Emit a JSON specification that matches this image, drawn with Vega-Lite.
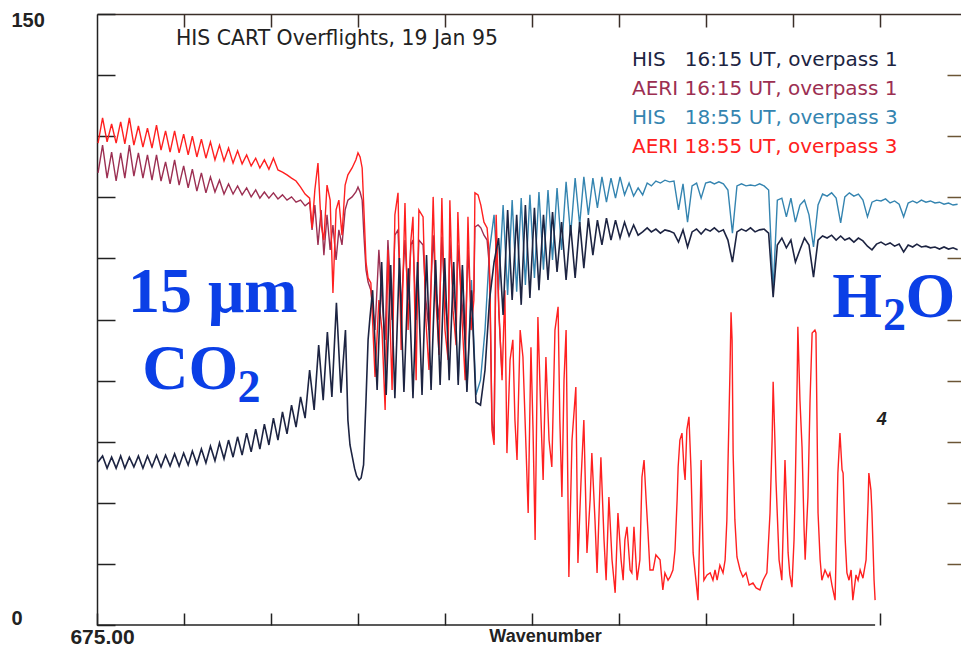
{
"$schema": "https://vega.github.io/schema/vega-lite/v6.json",
"width": 864, "height": 611,
"autosize": {"type": "none"},
"padding": {"left": 97, "top": 14, "right": 0, "bottom": 21},
"background": "white",
"config": {"view": {"stroke": null}, "axis": {"grid": false}},
"title": {"text": "HIS CART Overflights, 19 Jan 95", "anchor": "start", "frame": "group", "orient": "top", "offset": -55, "dx": 79, "baseline": "alphabetic", "font": "DejaVu Sans", "fontSize": 20.4, "fontWeight": "normal", "color": "#222222"},
"datasets": {
"his1": [
{"wn":675.3,"rad":40.0},{"wn":676.6,"rad":41.5},{"wn":677.9,"rad":38.5},{"wn":679.2,"rad":41.2},{"wn":680.5,"rad":38.5},{"wn":681.8,"rad":41.5},{"wn":683.0,"rad":38.5},{"wn":684.3,"rad":41.2},{"wn":685.6,"rad":38.8},{"wn":686.9,"rad":41.5},{"wn":688.2,"rad":38.5},{"wn":689.5,"rad":41.5},{"wn":690.8,"rad":38.8},{"wn":692.1,"rad":41.7},{"wn":693.4,"rad":38.8},{"wn":694.7,"rad":41.7},{"wn":696.0,"rad":39.0},{"wn":697.3,"rad":42.0},{"wn":698.6,"rad":39.0},{"wn":699.9,"rad":42.2},{"wn":701.2,"rad":39.3},{"wn":702.4,"rad":42.7},{"wn":703.7,"rad":39.5},{"wn":705.0,"rad":43.2},{"wn":706.3,"rad":39.8},{"wn":707.6,"rad":43.9},{"wn":708.9,"rad":40.3},{"wn":710.2,"rad":44.7},{"wn":711.5,"rad":40.8},{"wn":712.8,"rad":45.4},{"wn":714.1,"rad":41.2},{"wn":715.4,"rad":46.2},{"wn":716.7,"rad":41.7},{"wn":718.0,"rad":47.1},{"wn":719.3,"rad":42.5},{"wn":720.6,"rad":48.1},{"wn":721.8,"rad":43.2},{"wn":723.1,"rad":49.3},{"wn":724.4,"rad":44.2},{"wn":725.7,"rad":50.8},{"wn":727.0,"rad":45.4},{"wn":728.3,"rad":52.3},{"wn":729.6,"rad":46.9},{"wn":730.9,"rad":54.0},{"wn":732.2,"rad":48.6},{"wn":733.5,"rad":56.0},{"wn":734.8,"rad":50.8},{"wn":736.1,"rad":62.6},{"wn":737.4,"rad":52.8},{"wn":738.7,"rad":68.7},{"wn":740.0,"rad":55.2},{"wn":741.2,"rad":71.9},{"wn":742.5,"rad":56.0},{"wn":743.8,"rad":79.1},{"wn":745.1,"rad":57.0},{"wn":746.4,"rad":72.4},{"wn":747.1,"rad":50.3},{"wn":747.7,"rad":44.2},{"wn":749.0,"rad":38.5},{"wn":749.6,"rad":36.6},{"wn":750.3,"rad":35.6},{"wn":750.9,"rad":36.1},{"wn":751.6,"rad":39.3},{"wn":752.3,"rad":55.2},{"wn":752.9,"rad":70.0},{"wn":753.4,"rad":75.1},{"wn":754.2,"rad":82.2},{"wn":755.5,"rad":57.7},{"wn":756.8,"rad":89.1},{"wn":758.1,"rad":56.5},{"wn":759.4,"rad":88.4},{"wn":760.6,"rad":55.7},{"wn":761.9,"rad":90.1},{"wn":763.2,"rad":57.2},{"wn":764.5,"rad":87.6},{"wn":765.8,"rad":55.7},{"wn":767.1,"rad":89.1},{"wn":768.4,"rad":56.5},{"wn":769.7,"rad":90.8},{"wn":771.0,"rad":57.7},{"wn":772.3,"rad":89.6},{"wn":773.6,"rad":58.9},{"wn":774.9,"rad":90.1},{"wn":776.2,"rad":60.1},{"wn":777.5,"rad":89.1},{"wn":778.8,"rad":58.9},{"wn":780.0,"rad":88.4},{"wn":781.3,"rad":57.2},{"wn":782.6,"rad":82.2},{"wn":783.9,"rad":54.7},{"wn":785.2,"rad":54.0},{"wn":786.5,"rad":62.6},{"wn":787.8,"rad":79.8},{"wn":789.1,"rad":89.1},{"wn":790.4,"rad":95.0},{"wn":791.7,"rad":76.1},{"wn":793.0,"rad":101.9},{"wn":794.3,"rad":79.8},{"wn":795.6,"rad":100.7},{"wn":796.9,"rad":78.6},{"wn":798.1,"rad":103.1},{"wn":799.4,"rad":80.3},{"wn":800.7,"rad":102.4},{"wn":802.0,"rad":82.2},{"wn":803.3,"rad":100.7},{"wn":804.6,"rad":84.7},{"wn":805.9,"rad":101.4},{"wn":807.2,"rad":86.7},{"wn":808.5,"rad":98.9},{"wn":809.8,"rad":84.7},{"wn":811.1,"rad":98.2},{"wn":812.4,"rad":85.2},{"wn":813.7,"rad":98.9},{"wn":814.9,"rad":87.6},{"wn":816.2,"rad":99.9},{"wn":817.5,"rad":90.8},{"wn":818.8,"rad":99.4},{"wn":820.1,"rad":93.3},{"wn":821.4,"rad":99.9},{"wn":822.7,"rad":94.5},{"wn":824.0,"rad":99.4},{"wn":825.3,"rad":95.0},{"wn":826.6,"rad":98.9},{"wn":827.9,"rad":95.5},{"wn":829.2,"rad":98.2},{"wn":830.5,"rad":95.7},{"wn":831.8,"rad":96.5},{"wn":833.1,"rad":97.5},{"wn":834.3,"rad":96.5},{"wn":835.6,"rad":97.2},{"wn":836.9,"rad":96.2},{"wn":838.2,"rad":97.0},{"wn":839.5,"rad":96.7},{"wn":840.8,"rad":96.2},{"wn":842.1,"rad":94.0},{"wn":843.4,"rad":97.0},{"wn":844.7,"rad":92.8},{"wn":846.0,"rad":96.5},{"wn":847.3,"rad":97.2},{"wn":848.6,"rad":96.0},{"wn":849.9,"rad":97.2},{"wn":851.2,"rad":96.7},{"wn":852.4,"rad":97.5},{"wn":853.7,"rad":96.5},{"wn":855.0,"rad":97.0},{"wn":856.3,"rad":94.5},{"wn":857.6,"rad":89.1},{"wn":858.9,"rad":96.5},{"wn":860.2,"rad":97.2},{"wn":861.5,"rad":96.7},{"wn":862.8,"rad":97.5},{"wn":864.1,"rad":96.5},{"wn":865.4,"rad":97.0},{"wn":866.7,"rad":97.2},{"wn":868.0,"rad":96.2},{"wn":869.3,"rad":80.5},{"wn":870.5,"rad":93.3},{"wn":871.8,"rad":95.0},{"wn":873.1,"rad":92.6},{"wn":874.4,"rad":94.5},{"wn":875.7,"rad":89.1},{"wn":877.0,"rad":92.1},{"wn":878.3,"rad":95.0},{"wn":879.6,"rad":93.3},{"wn":880.9,"rad":85.4},{"wn":882.2,"rad":94.5},{"wn":883.5,"rad":95.5},{"wn":884.8,"rad":95.0},{"wn":886.1,"rad":95.7},{"wn":887.4,"rad":94.5},{"wn":888.7,"rad":95.5},{"wn":889.9,"rad":94.5},{"wn":891.2,"rad":95.0},{"wn":892.5,"rad":94.0},{"wn":893.8,"rad":95.0},{"wn":895.1,"rad":94.3},{"wn":896.4,"rad":93.0},{"wn":897.7,"rad":92.1},{"wn":899.0,"rad":93.5},{"wn":900.3,"rad":94.0},{"wn":901.6,"rad":93.3},{"wn":902.9,"rad":93.8},{"wn":904.2,"rad":93.0},{"wn":905.5,"rad":93.5},{"wn":906.8,"rad":91.6},{"wn":908.1,"rad":93.3},{"wn":909.4,"rad":92.8},{"wn":910.6,"rad":93.5},{"wn":911.9,"rad":92.8},{"wn":913.2,"rad":93.0},{"wn":914.5,"rad":92.6},{"wn":915.8,"rad":92.8},{"wn":917.1,"rad":92.3},{"wn":918.4,"rad":92.8},{"wn":919.7,"rad":92.3},{"wn":921.0,"rad":92.6},{"wn":922.3,"rad":92.1}
],
"his3": [
{"wn":778.8,"rad":60.1},{"wn":780.0,"rad":87.2},{"wn":781.3,"rad":57.7},{"wn":782.6,"rad":84.7},{"wn":783.9,"rad":56.5},{"wn":785.2,"rad":60.1},{"wn":786.5,"rad":72.4},{"wn":787.8,"rad":92.1},{"wn":789.1,"rad":100.7},{"wn":790.4,"rad":82.2},{"wn":791.7,"rad":103.1},{"wn":793.0,"rad":81.0},{"wn":794.3,"rad":104.3},{"wn":795.6,"rad":81.8},{"wn":796.9,"rad":104.8},{"wn":798.1,"rad":83.5},{"wn":799.4,"rad":105.6},{"wn":800.7,"rad":85.2},{"wn":802.0,"rad":106.3},{"wn":803.3,"rad":87.2},{"wn":804.6,"rad":106.8},{"wn":805.9,"rad":89.6},{"wn":807.2,"rad":107.3},{"wn":808.5,"rad":92.1},{"wn":809.8,"rad":108.8},{"wn":811.1,"rad":95.7},{"wn":812.4,"rad":109.7},{"wn":813.7,"rad":98.2},{"wn":814.9,"rad":110.0},{"wn":816.2,"rad":100.7},{"wn":817.5,"rad":109.7},{"wn":818.8,"rad":102.4},{"wn":820.1,"rad":110.0},{"wn":821.4,"rad":103.8},{"wn":822.7,"rad":109.7},{"wn":824.0,"rad":104.8},{"wn":825.3,"rad":110.0},{"wn":826.6,"rad":105.6},{"wn":827.9,"rad":108.5},{"wn":829.2,"rad":105.3},{"wn":830.5,"rad":107.3},{"wn":831.8,"rad":105.6},{"wn":833.1,"rad":108.5},{"wn":834.3,"rad":107.8},{"wn":835.6,"rad":109.0},{"wn":836.9,"rad":108.5},{"wn":838.2,"rad":109.2},{"wn":839.5,"rad":108.8},{"wn":840.8,"rad":109.0},{"wn":842.1,"rad":101.9},{"wn":843.4,"rad":108.3},{"wn":844.7,"rad":98.9},{"wn":846.0,"rad":107.8},{"wn":847.3,"rad":108.5},{"wn":848.6,"rad":104.8},{"wn":849.9,"rad":108.5},{"wn":851.2,"rad":108.8},{"wn":852.4,"rad":108.3},{"wn":853.7,"rad":108.8},{"wn":855.0,"rad":108.3},{"wn":856.3,"rad":106.8},{"wn":857.6,"rad":96.2},{"wn":858.9,"rad":107.8},{"wn":860.2,"rad":108.3},{"wn":861.5,"rad":107.8},{"wn":862.8,"rad":108.0},{"wn":864.1,"rad":107.8},{"wn":865.4,"rad":108.3},{"wn":866.7,"rad":107.8},{"wn":868.0,"rad":106.8},{"wn":869.3,"rad":82.2},{"wn":870.5,"rad":104.3},{"wn":871.8,"rad":104.8},{"wn":873.1,"rad":100.2},{"wn":874.4,"rad":104.8},{"wn":875.7,"rad":98.9},{"wn":877.0,"rad":103.1},{"wn":878.3,"rad":104.3},{"wn":879.6,"rad":100.7},{"wn":880.9,"rad":92.8},{"wn":882.2,"rad":103.1},{"wn":883.5,"rad":105.8},{"wn":884.8,"rad":105.3},{"wn":886.1,"rad":106.1},{"wn":887.4,"rad":104.8},{"wn":888.7,"rad":98.7},{"wn":889.9,"rad":105.1},{"wn":891.2,"rad":106.1},{"wn":892.5,"rad":105.3},{"wn":893.8,"rad":105.8},{"wn":895.1,"rad":104.3},{"wn":896.4,"rad":100.2},{"wn":897.7,"rad":103.8},{"wn":899.0,"rad":104.3},{"wn":900.3,"rad":104.1},{"wn":901.6,"rad":104.6},{"wn":902.9,"rad":103.6},{"wn":904.2,"rad":104.1},{"wn":905.5,"rad":103.3},{"wn":906.8,"rad":100.2},{"wn":908.1,"rad":103.6},{"wn":909.4,"rad":104.1},{"wn":910.6,"rad":103.6},{"wn":911.9,"rad":104.3},{"wn":913.2,"rad":103.8},{"wn":914.5,"rad":104.1},{"wn":915.8,"rad":103.6},{"wn":917.1,"rad":103.8},{"wn":918.4,"rad":103.3},{"wn":919.7,"rad":103.6},{"wn":921.0,"rad":103.1},{"wn":922.3,"rad":103.3}
],
"aeri1": [
{"wn":675.3,"rad":111.0},{"wn":676.6,"rad":117.8},{"wn":677.9,"rad":109.7},{"wn":679.2,"rad":116.1},{"wn":680.5,"rad":109.0},{"wn":681.8,"rad":115.9},{"wn":683.0,"rad":109.7},{"wn":684.3,"rad":117.8},{"wn":685.6,"rad":110.2},{"wn":686.9,"rad":115.9},{"wn":688.2,"rad":109.7},{"wn":689.5,"rad":115.4},{"wn":690.8,"rad":109.2},{"wn":692.1,"rad":115.4},{"wn":693.4,"rad":109.0},{"wn":694.7,"rad":113.7},{"wn":696.0,"rad":108.3},{"wn":697.3,"rad":114.2},{"wn":698.6,"rad":108.0},{"wn":699.9,"rad":112.7},{"wn":701.2,"rad":107.3},{"wn":702.4,"rad":111.9},{"wn":703.7,"rad":106.5},{"wn":705.0,"rad":111.0},{"wn":706.3,"rad":106.1},{"wn":707.6,"rad":110.0},{"wn":708.9,"rad":106.3},{"wn":710.2,"rad":109.2},{"wn":711.5,"rad":105.8},{"wn":712.8,"rad":108.3},{"wn":714.1,"rad":105.8},{"wn":715.4,"rad":107.8},{"wn":716.7,"rad":105.6},{"wn":718.0,"rad":107.3},{"wn":719.3,"rad":105.1},{"wn":720.6,"rad":106.8},{"wn":721.8,"rad":104.8},{"wn":723.1,"rad":106.3},{"wn":724.4,"rad":104.8},{"wn":725.7,"rad":106.1},{"wn":727.0,"rad":104.6},{"wn":728.3,"rad":105.6},{"wn":729.6,"rad":104.3},{"wn":730.9,"rad":105.1},{"wn":732.2,"rad":103.8},{"wn":733.5,"rad":104.3},{"wn":734.8,"rad":102.9},{"wn":736.1,"rad":103.8},
{"wn":736.8,"rad":97.0},{"wn":737.6,"rad":103.1},{"wn":738.5,"rad":93.3},{"wn":739.4,"rad":101.9},{"wn":740.2,"rad":90.8},{"wn":741.1,"rad":100.7},{"wn":742.0,"rad":92.1},{"wn":742.8,"rad":98.2},{"wn":743.7,"rad":89.6},{"wn":744.5,"rad":97.0},{"wn":745.4,"rad":93.3},{"wn":746.3,"rad":101.9},{"wn":747.1,"rad":104.3},{"wn":748.3,"rad":105.1},{"wn":749.4,"rad":106.3},{"wn":750.0,"rad":107.5},{"wn":750.6,"rad":106.3},{"wn":751.2,"rad":104.3},{"wn":751.7,"rad":95.7},{"wn":752.3,"rad":87.2},{"wn":752.9,"rad":84.2},
{"wn":753.7,"rad":82.2},{"wn":754.9,"rad":72.4},{"wn":756.0,"rad":92.1},{"wn":756.9,"rad":79.8},{"wn":757.8,"rad":70.0},{"wn":758.6,"rad":94.5},{"wn":759.8,"rad":74.9},{"wn":760.6,"rad":95.7},{"wn":761.5,"rad":97.0},{"wn":762.4,"rad":77.3},{"wn":763.5,"rad":94.5},{"wn":764.4,"rad":79.8},{"wn":765.2,"rad":93.3},{"wn":765.8,"rad":94.5},{"wn":766.7,"rad":74.9},{"wn":767.5,"rad":94.5},{"wn":768.7,"rad":93.3},{"wn":769.5,"rad":79.8},{"wn":770.4,"rad":72.4},{"wn":771.6,"rad":95.7},{"wn":772.4,"rad":82.2},{"wn":773.3,"rad":74.9},{"wn":774.1,"rad":95.3},{"wn":775.0,"rad":79.8},{"wn":775.9,"rad":72.4},{"wn":776.4,"rad":94.5},{"wn":777.3,"rad":82.2},{"wn":778.2,"rad":74.9},{"wn":778.7,"rad":93.3},{"wn":779.6,"rad":82.2},{"wn":780.8,"rad":70.0},{"wn":781.6,"rad":92.1},{"wn":782.5,"rad":77.3},{"wn":783.3,"rad":82.2},{"wn":783.6,"rad":97.7},{"wn":784.5,"rad":98.2},{"wn":785.3,"rad":97.5},{"wn":786.2,"rad":95.7},{"wn":787.1,"rad":94.5},{"wn":787.6,"rad":89.6},{"wn":787.9,"rad":82.2},{"wn":788.5,"rad":50.3},{"wn":789.1,"rad":45.4},{"wn":789.7,"rad":97.0},{"wn":790.5,"rad":76.1},{"wn":791.4,"rad":61.4}
],
"aeri3": [
{"wn":675.3,"rad":118.3},{"wn":676.6,"rad":124.5},{"wn":677.9,"rad":118.6},{"wn":679.2,"rad":123.0},{"wn":680.5,"rad":118.3},{"wn":681.8,"rad":123.5},{"wn":683.0,"rad":118.1},{"wn":684.3,"rad":124.5},{"wn":685.6,"rad":117.8},{"wn":686.9,"rad":122.5},{"wn":688.2,"rad":117.3},{"wn":689.5,"rad":122.0},{"wn":690.8,"rad":117.1},{"wn":692.1,"rad":122.7},{"wn":693.4,"rad":116.6},{"wn":694.7,"rad":121.3},{"wn":696.0,"rad":116.1},{"wn":697.3,"rad":121.3},{"wn":698.6,"rad":115.9},{"wn":699.9,"rad":120.5},{"wn":701.2,"rad":115.4},{"wn":702.4,"rad":120.0},{"wn":703.7,"rad":114.9},{"wn":705.0,"rad":119.3},{"wn":706.3,"rad":114.6},{"wn":707.6,"rad":118.6},{"wn":708.9,"rad":114.2},{"wn":710.2,"rad":117.8},{"wn":711.5,"rad":113.9},{"wn":712.8,"rad":117.1},{"wn":714.1,"rad":113.4},{"wn":715.4,"rad":116.4},{"wn":716.7,"rad":113.2},{"wn":718.0,"rad":115.4},{"wn":719.3,"rad":112.7},{"wn":720.6,"rad":114.6},{"wn":721.8,"rad":112.2},{"wn":723.1,"rad":114.2},{"wn":724.4,"rad":111.9},{"wn":725.7,"rad":114.6},{"wn":727.0,"rad":111.7},{"wn":728.3,"rad":111.2},{"wn":729.6,"rad":110.5},{"wn":730.9,"rad":109.7},{"wn":732.2,"rad":109.0},{"wn":733.5,"rad":107.5},{"wn":734.8,"rad":105.8},{"wn":736.1,"rad":104.8},
{"wn":736.8,"rad":97.5},{"wn":737.6,"rad":106.8},{"wn":738.5,"rad":113.4},{"wn":739.4,"rad":98.2},{"wn":740.2,"rad":94.5},{"wn":741.1,"rad":108.0},{"wn":742.0,"rad":104.3},{"wn":742.8,"rad":81.5},{"wn":743.7,"rad":101.9},{"wn":744.5,"rad":104.3},{"wn":745.4,"rad":95.7},{"wn":746.3,"rad":108.0},{"wn":747.1,"rad":110.5},{"wn":748.3,"rad":112.2},{"wn":749.4,"rad":114.2},{"wn":750.0,"rad":115.9},{"wn":750.6,"rad":114.9},{"wn":751.2,"rad":112.2},{"wn":751.7,"rad":101.9},{"wn":752.3,"rad":89.1},{"wn":752.9,"rad":85.2},{"wn":753.7,"rad":84.0},
{"wn":754.9,"rad":60.9},{"wn":756.0,"rad":79.8},{"wn":756.9,"rad":72.4},{"wn":757.8,"rad":52.8},{"wn":758.6,"rad":92.1},{"wn":759.8,"rad":57.7},{"wn":760.6,"rad":100.7},{"wn":761.5,"rad":106.1},{"wn":762.4,"rad":67.5},{"wn":763.5,"rad":103.6},{"wn":764.4,"rad":72.4},{"wn":765.2,"rad":94.5},{"wn":765.8,"rad":100.2},{"wn":766.7,"rad":60.1},{"wn":767.5,"rad":101.9},{"wn":768.7,"rad":100.2},{"wn":769.5,"rad":74.9},{"wn":770.4,"rad":62.6},{"wn":771.6,"rad":105.1},{"wn":772.4,"rad":79.8},{"wn":773.3,"rad":66.3},{"wn":774.1,"rad":104.8},{"wn":775.0,"rad":72.4},{"wn":775.9,"rad":65.1},{"wn":776.4,"rad":104.3},{"wn":777.3,"rad":77.3},{"wn":778.2,"rad":68.7},{"wn":778.7,"rad":101.4},{"wn":779.6,"rad":79.8},{"wn":780.8,"rad":60.1},{"wn":781.6,"rad":100.2},{"wn":782.5,"rad":72.4},{"wn":783.3,"rad":79.8},{"wn":783.6,"rad":106.1},{"wn":784.5,"rad":105.6},{"wn":785.3,"rad":103.1},{"wn":786.2,"rad":98.9},{"wn":787.1,"rad":97.5},
{"wn":787.6,"rad":92.1},{"wn":787.9,"rad":84.7},{"wn":788.5,"rad":47.9},{"wn":789.1,"rad":44.2},{"wn":789.7,"rad":100.7},{"wn":790.5,"rad":77.3},{"wn":791.4,"rad":60.1},{"wn":792.2,"rad":82.2},{"wn":792.8,"rad":42.2},{"wn":793.7,"rad":65.1},{"wn":794.5,"rad":70.0},{"wn":795.1,"rad":50.3},{"wn":795.7,"rad":40.5},{"wn":796.6,"rad":72.4},{"wn":797.4,"rad":65.8},{"wn":798.3,"rad":43.0},{"wn":798.9,"rad":27.5},{"wn":799.7,"rad":68.2},{"wn":800.3,"rad":47.9},{"wn":800.9,"rad":20.9},{"wn":801.7,"rad":75.6},{"wn":802.6,"rad":50.3},{"wn":803.2,"rad":35.6},{"wn":804.0,"rad":65.8},{"wn":804.9,"rad":45.4},{"wn":805.7,"rad":38.8},{"wn":806.6,"rad":72.4},{"wn":807.5,"rad":78.1},{"wn":808.0,"rad":50.3},{"wn":808.6,"rad":31.4},{"wn":809.2,"rad":60.1},{"wn":809.8,"rad":72.4},{"wn":810.6,"rad":11.8},{"wn":811.5,"rad":45.4},{"wn":812.6,"rad":58.4},{"wn":813.2,"rad":15.2},{"wn":814.1,"rad":35.6},{"wn":814.9,"rad":50.3},{"wn":815.8,"rad":17.7},{"wn":816.7,"rad":30.7},{"wn":817.2,"rad":42.2},{"wn":818.1,"rad":25.8},{"wn":818.7,"rad":12.8},{"wn":819.3,"rad":28.2},{"wn":819.8,"rad":41.2},{"wn":820.7,"rad":20.9},{"wn":821.3,"rad":11.0},{"wn":822.1,"rad":31.4},{"wn":823.0,"rad":16.0},{"wn":823.9,"rad":7.9},{"wn":824.7,"rad":27.5},{"wn":825.6,"rad":16.0},{"wn":826.2,"rad":11.0},{"wn":826.7,"rad":20.9},{"wn":827.3,"rad":24.1},{"wn":828.2,"rad":13.5},{"wn":828.7,"rad":12.8},{"wn":829.3,"rad":24.1},{"wn":830.2,"rad":11.0},{"wn":831.0,"rad":16.0},{"wn":831.6,"rad":36.3},{"wn":832.2,"rad":40.5},{"wn":832.8,"rad":30.7},{"wn":833.3,"rad":23.3},{"wn":833.9,"rad":13.5},{"wn":834.8,"rad":13.5},{"wn":835.6,"rad":17.2},{"wn":836.8,"rad":16.0},{"wn":837.6,"rad":8.6},{"wn":838.2,"rad":12.8},{"wn":839.1,"rad":11.0},{"wn":839.7,"rad":11.8},{"wn":840.5,"rad":13.5},{"wn":841.1,"rad":18.4},{"wn":841.7,"rad":30.7},{"wn":842.0,"rad":38.8},{"wn":842.5,"rad":45.4},{"wn":843.1,"rad":47.1},{"wn":843.7,"rad":38.1},{"wn":844.0,"rad":35.6},{"wn":844.5,"rad":47.9},{"wn":845.1,"rad":51.1},{"wn":845.7,"rad":38.1},{"wn":846.3,"rad":17.7},{"wn":847.1,"rad":11.0},{"wn":847.7,"rad":6.1},{"wn":848.3,"rad":25.8},{"wn":848.6,"rad":40.5},{"wn":849.1,"rad":20.9},{"wn":849.4,"rad":11.0},{"wn":850.3,"rad":12.3},{"wn":851.2,"rad":12.8},{"wn":852.0,"rad":11.0},{"wn":852.6,"rad":13.5},{"wn":853.2,"rad":11.0},{"wn":854.0,"rad":14.7},{"wn":854.9,"rad":12.8},{"wn":855.5,"rad":16.0},{"wn":856.0,"rad":25.8},{"wn":856.3,"rad":38.8},{"wn":856.9,"rad":62.6},{"wn":857.2,"rad":76.8},{"wn":857.5,"rad":70.0},{"wn":857.8,"rad":42.2},{"wn":858.3,"rad":25.8},{"wn":858.9,"rad":16.7},{"wn":859.8,"rad":13.5},{"wn":860.6,"rad":11.8},{"wn":861.5,"rad":12.8},{"wn":862.4,"rad":9.8},{"wn":863.5,"rad":10.3},{"wn":864.4,"rad":9.1},{"wn":865.5,"rad":8.6},{"wn":866.4,"rad":11.0},{"wn":867.5,"rad":12.8},{"wn":868.4,"rad":27.5},{"wn":869.0,"rad":45.4},{"wn":869.3,"rad":59.7},{"wn":869.8,"rad":45.4},{"wn":870.1,"rad":35.6},{"wn":871.0,"rad":16.0},{"wn":871.8,"rad":11.0},{"wn":872.7,"rad":40.5},{"wn":873.3,"rad":25.8},{"wn":873.6,"rad":17.7},{"wn":874.1,"rad":12.3},{"wn":874.7,"rad":9.3},{"wn":875.3,"rad":20.9},{"wn":875.6,"rad":31.4},{"wn":876.2,"rad":60.1},{"wn":876.4,"rad":73.2},{"wn":877.0,"rad":55.2},{"wn":877.6,"rad":43.7},{"wn":878.2,"rad":23.3},{"wn":878.5,"rad":16.0},{"wn":879.0,"rad":25.8},{"wn":879.3,"rad":31.4},{"wn":879.9,"rad":55.2},{"wn":880.5,"rad":71.7},{"wn":881.3,"rad":72.4},{"wn":881.6,"rad":71.7},{"wn":881.9,"rad":50.3},{"wn":882.2,"rad":27.5},{"wn":882.8,"rad":16.0},{"wn":883.3,"rad":11.0},{"wn":884.2,"rad":13.5},{"wn":885.1,"rad":11.8},{"wn":885.6,"rad":12.8},{"wn":886.2,"rad":9.8},{"wn":887.1,"rad":6.1},{"wn":887.6,"rad":25.8},{"wn":887.9,"rad":37.3},{"wn":888.5,"rad":47.1},{"wn":889.1,"rad":38.1},{"wn":889.4,"rad":37.3},{"wn":890.0,"rad":20.9},{"wn":890.5,"rad":12.8},{"wn":891.1,"rad":11.0},{"wn":891.7,"rad":13.5},{"wn":892.2,"rad":6.1},{"wn":893.1,"rad":12.3},{"wn":893.7,"rad":11.0},{"wn":894.3,"rad":13.5},{"wn":895.1,"rad":11.5},{"wn":896.0,"rad":16.0},{"wn":896.6,"rad":30.7},{"wn":896.8,"rad":37.3},{"wn":897.4,"rad":33.1},{"wn":897.7,"rad":27.5},{"wn":898.3,"rad":11.0},{"wn":898.6,"rad":6.1}
],
"bigText": [
{"text":"15 μm","wn":683.9,"rad":76.8},{"text":"CO","wn":688.0,"rad":57.9},{"text":"H","wn":886.3,"rad":75.6},{"text":"O","wn":907.3,"rad":75.6}
],
"subText": [
{"text":"2","wn":715.4,"rad":54.7},{"text":"2","wn":900.9,"rad":72.4}
],
"panelNo": [
{"text":"4","wn":899.1,"rad":49.1}
]
},
"layer": [
{"data":{"name":"his3"},"mark":{"type":"line","strokeWidth":1.4,"clip":true},
 "encoding":{
  "x":{"field":"wn","type":"quantitative","scale":{"domain":[675,923.28],"nice":false,"zero":false},
   "axis":{"orient":"bottom","values":[675,700,725,750,775,800,825,850,875,900],"domain":false,"ticks":true,"tickSize":-12,"tickWidth":1.5,"tickColor":"#222222","labelExpr":"datum.value == 675 ? '675.00' : ''","labelFont":"Liberation Sans","labelFontWeight":"bold","labelFontSize":21,"labelColor":"#222222","labelPadding":13,"labelBaseline":"top","labelOverlap":false,"labelFlush":false,"labelOffset":5,"title":"Wavenumber","titleFont":"Liberation Sans","titleFontWeight":"bold","titleFontSize":18,"titleColor":"#222222","titleAnchor":"start","titleAlign":"center","titleX":448,"titleY":16,"titleBaseline":"alphabetic"}},
  "y":{"field":"rad","type":"quantitative","scale":{"domain":[0,150],"nice":false,"zero":false},
   "axis":{"orient":"left","values":[0,15,30,45,60,75,90,105,120,135,150],"domain":true,"domainColor":"#222222","domainWidth":1.5,"tickSize":-18,"tickWidth":1.5,"tickColor":"#222222","labelExpr":"datum.value == 0 || datum.value == 150 ? datum.label : ''","labelFlush":true,"labelAlign":"left","labelPadding":104,"labelFont":"Liberation Sans","labelFontWeight":"bold","labelFontSize":20,"labelColor":"#222222","labelOverlap":false,"title":null,
    "labelOffset":{"condition":{"test":"datum.value == 150","value":-4},"value":3}}},
  "color":{"datum":"HIS\u00a0\u00a0\u00a018:55 UT, overpass 3","type":"nominal",
   "scale":{"domain":["HIS\u00a0\u00a0\u00a016:15 UT, overpass 1","AERI 16:15 UT, overpass 1","HIS\u00a0\u00a0\u00a018:55 UT, overpass 3","AERI 18:55 UT, overpass 3"],"range":["#1d2442","#9c2f52","#3484b0","#ff2020"]},
   "legend":{"orient":"none","legendX":515,"legendY":36,"title":null,"symbolSize":0,"symbolOpacity":0,"symbolStrokeWidth":0,"labelOffset":0,"labelFont":"DejaVu Sans","labelFontSize":20,"labelLimit":500,"rowPadding":9,"padding":0,"encode":{"labels":{"update":{"fill":{"scale":"color","field":"value"}}}}}}
 }},
{"data":{"name":"aeri1"},"mark":{"type":"line","strokeWidth":1.4,"clip":true},
 "encoding":{"x":{"field":"wn","type":"quantitative","axis":null},"y":{"field":"rad","type":"quantitative","axis":null},"color":{"datum":"AERI 16:15 UT, overpass 1","type":"nominal"}}},
{"data":{"name":"aeri3"},"mark":{"type":"line","strokeWidth":1.4,"clip":true},
 "encoding":{"x":{"field":"wn","type":"quantitative","axis":null},"y":{"field":"rad","type":"quantitative","axis":null},"color":{"datum":"AERI 18:55 UT, overpass 3","type":"nominal"}}},
{"data":{"name":"his1"},"mark":{"type":"line","strokeWidth":1.6,"clip":true},
 "encoding":{"x":{"field":"wn","type":"quantitative","axis":null},"y":{"field":"rad","type":"quantitative","axis":null},"color":{"datum":"HIS\u00a0\u00a0\u00a016:15 UT, overpass 1","type":"nominal"}}},
{"data":{"values":[{}]},"mark":{"type":"rule","color":"#222222","strokeWidth":1.5},
 "encoding":{
  "x":{"datum":675,"type":"quantitative","axis":{"orient":"top","values":[700,725,750,775,800,825,850,875,900],"domain":true,"domainColor":"#3a2e28","domainWidth":1.5,"tickSize":-13,"tickWidth":1.5,"tickColor":"#3a2e28","labels":false,"title":null}},
  "x2":{"datum":898.6},
  "y":{"datum":0,"type":"quantitative","axis":{"orient":"right","values":[15,30,45,60,75,90,105,120,135],"domain":true,"domainColor":"#dddddd","tickSize":-14,"tickWidth":1.5,"tickColor":"#6b5535","labels":false,"title":null}}
 }},
{"data":{"name":"bigText"},"mark":{"type":"text","font":"Liberation Serif","fontWeight":"bold","fontSize":64,"color":"#0b3fe6","align":"left","baseline":"alphabetic"},
 "encoding":{"x":{"field":"wn","type":"quantitative","axis":null},"y":{"field":"rad","type":"quantitative","axis":null},"text":{"field":"text"}}},
{"data":{"name":"subText"},"mark":{"type":"text","font":"Liberation Serif","fontWeight":"bold","fontSize":46,"color":"#0b3fe6","align":"left","baseline":"alphabetic"},
 "encoding":{"x":{"field":"wn","type":"quantitative","axis":null},"y":{"field":"rad","type":"quantitative","axis":null},"text":{"field":"text"}}},
{"data":{"name":"panelNo"},"mark":{"type":"text","font":"Liberation Sans","fontWeight":"bold","fontStyle":"italic","fontSize":18,"color":"#222222","align":"left","baseline":"alphabetic"},
 "encoding":{"x":{"field":"wn","type":"quantitative","axis":null},"y":{"field":"rad","type":"quantitative","axis":null},"text":{"field":"text"}}}
],
"resolve": {"axis": {"x": "independent", "y": "independent"}}
}
